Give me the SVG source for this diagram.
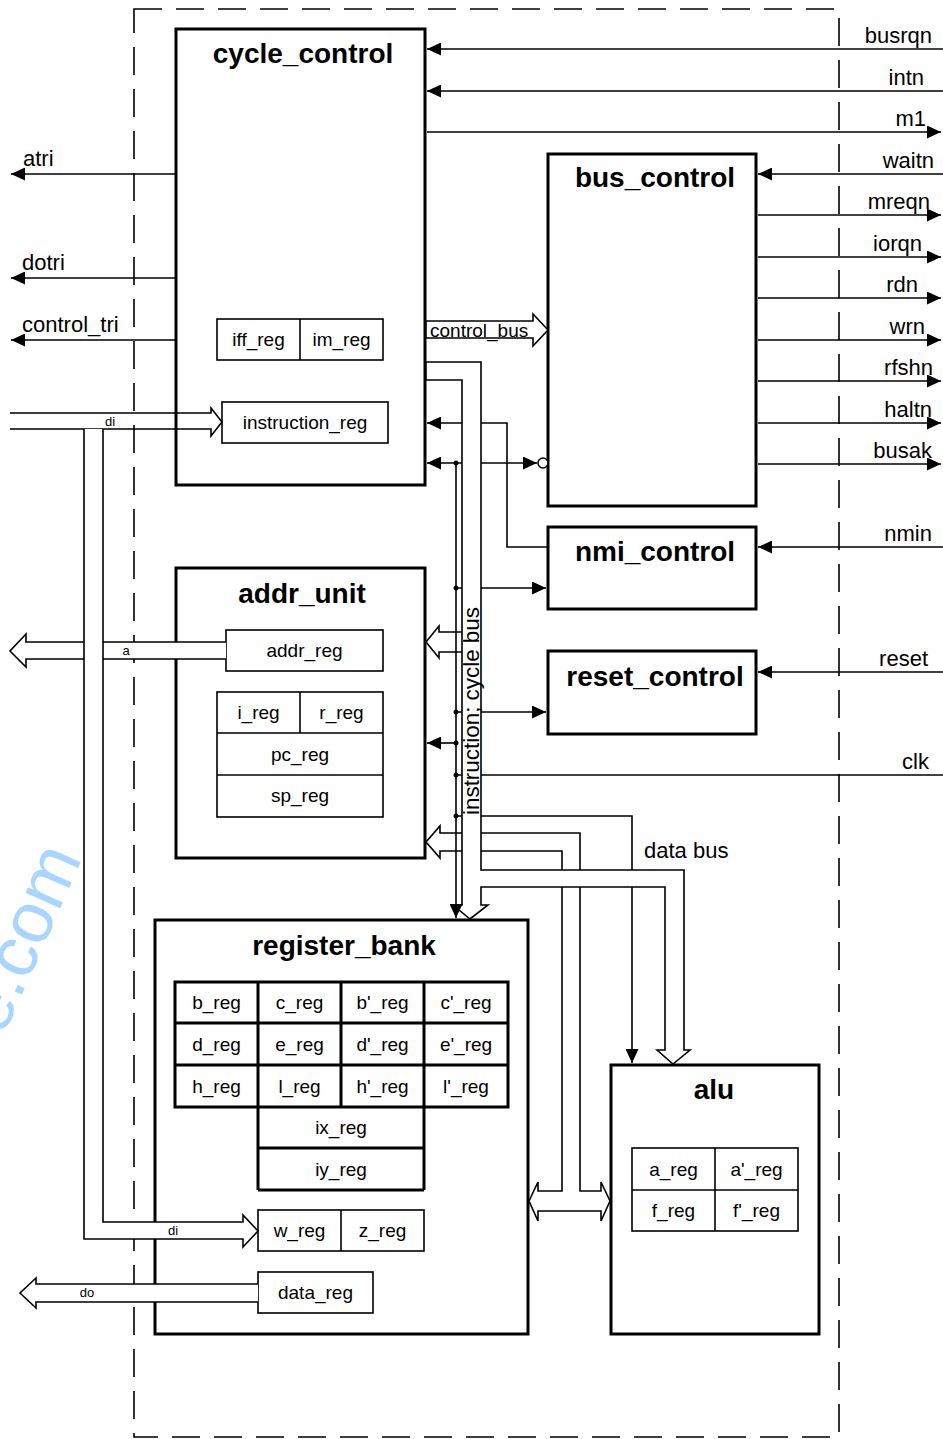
<svg xmlns="http://www.w3.org/2000/svg" width="943" height="1439" viewBox="0 0 943 1439">
<style>
text{font-family:"Liberation Sans",Arial,Helvetica,sans-serif;fill:#000}
.box{fill:#fff;stroke:#000;stroke-width:3}
.reg{fill:#fff;stroke:#000;stroke-width:1.6}
.grid{fill:none;stroke:#000;stroke-width:3}
.title{font-size:28px;font-weight:bold;text-anchor:middle}
.lbl{font-size:19px;text-anchor:middle}
.sig{font-size:22px}
.sigr{font-size:22px;text-anchor:end}
.small{font-size:13px;text-anchor:middle}
.wire{fill:none;stroke:#000;stroke-width:1.6}
.bus{fill:#fff;stroke:#000;stroke-width:1.6;stroke-linejoin:miter}
.hbus{fill:none;stroke:#000;stroke-width:1.6}
.dot{fill:#000}
</style>
<defs>
<marker id="arr" markerUnits="userSpaceOnUse" markerWidth="15" markerHeight="13" refX="14" refY="6.5" orient="auto-start-reverse">
<path d="M0,0 L14,6.5 L0,13 Z" fill="#000"/>
</marker>
</defs>
<rect width="943" height="1439" fill="#fff"/>
<text transform="translate(3,1037) rotate(-66)" font-size="72" style="fill:#a9d5ff">e.com</text>
<rect id="boundary" x="134" y="9" width="705" height="1428" fill="none" stroke="#000" stroke-width="1.6" stroke-dasharray="28 14"/>

<g id="cycle_control">
<rect class="box" x="176" y="29" width="249" height="456"/>
<text class="title" x="303" y="63">cycle_control</text>
<rect class="reg" x="217" y="319" width="166" height="41"/>
<line x1="300" y1="319" x2="300" y2="360" stroke="#000" stroke-width="1.6"/>
<text class="lbl" x="258.5" y="346">iff_reg</text>
<text class="lbl" x="341.5" y="346">im_reg</text>
<rect class="reg" x="222" y="402" width="166" height="41"/>
<text class="lbl" x="305" y="429">instruction_reg</text>
</g>

<g id="bus_control">
<rect class="box" x="548" y="154" width="208" height="352"/>
<text class="title" x="655" y="187">bus_control</text>
</g>

<g id="nmi_control">
<rect class="box" x="548" y="527" width="208" height="82"/>
<text class="title" x="655" y="561">nmi_control</text>
</g>

<g id="reset_control">
<rect class="box" x="548" y="651" width="208" height="83"/>
<text class="title" x="655" y="686">reset_control</text>
</g>

<g id="addr_unit">
<rect class="box" x="176" y="568" width="249" height="290"/>
<text class="title" x="302" y="603">addr_unit</text>
<rect class="reg" x="226" y="630" width="157" height="41"/>
<text class="lbl" x="304.5" y="657">addr_reg</text>
<rect class="reg" x="217" y="692" width="166" height="125"/>
<line x1="300" y1="692" x2="300" y2="733" stroke="#000" stroke-width="1.6"/>
<line x1="217" y1="733" x2="383" y2="733" stroke="#000" stroke-width="1.6"/>
<line x1="217" y1="775" x2="383" y2="775" stroke="#000" stroke-width="1.6"/>
<text class="lbl" x="258.5" y="719">i_reg</text>
<text class="lbl" x="341.5" y="719">r_reg</text>
<text class="lbl" x="300" y="761">pc_reg</text>
<text class="lbl" x="300" y="802">sp_reg</text>
</g>

<g id="register_bank">
<rect class="box" x="155" y="920" width="373" height="414"/>
<text class="title" x="344" y="955">register_bank</text>
<path class="grid" d="M175,982 H508 V1107 H175 Z M175,1023 H508 M175,1065 H508 M258,982 V1190 M341,982 V1107 M424,982 V1190 M258,1148 H424 M258,1190 H424"/>
<text class="lbl" x="216.5" y="1009">b_reg</text>
<text class="lbl" x="299.5" y="1009">c_reg</text>
<text class="lbl" x="382.5" y="1009">b'_reg</text>
<text class="lbl" x="466" y="1009">c'_reg</text>
<text class="lbl" x="216.5" y="1050.5">d_reg</text>
<text class="lbl" x="299.5" y="1050.5">e_reg</text>
<text class="lbl" x="382.5" y="1050.5">d'_reg</text>
<text class="lbl" x="466" y="1050.5">e'_reg</text>
<text class="lbl" x="216.5" y="1092.5">h_reg</text>
<text class="lbl" x="299.5" y="1092.5">l_reg</text>
<text class="lbl" x="382.5" y="1092.5">h'_reg</text>
<text class="lbl" x="466" y="1092.5">l'_reg</text>
<text class="lbl" x="341" y="1134">ix_reg</text>
<text class="lbl" x="341" y="1175.5">iy_reg</text>
<rect class="reg" x="258" y="1210" width="166" height="41"/>
<line x1="341" y1="1210" x2="341" y2="1251" stroke="#000" stroke-width="1.6"/>
<text class="lbl" x="299.5" y="1237">w_reg</text>
<text class="lbl" x="382.5" y="1237">z_reg</text>
<rect class="reg" x="258" y="1272" width="115" height="41"/>
<text class="lbl" x="315.5" y="1299">data_reg</text>
</g>

<g id="alu">
<rect class="box" x="611" y="1065" width="208" height="269"/>
<text class="title" x="714" y="1099">alu</text>
<rect class="reg" x="632" y="1148" width="166" height="83"/>
<line x1="715" y1="1148" x2="715" y2="1231" stroke="#000" stroke-width="1.6"/>
<line x1="632" y1="1190" x2="798" y2="1190" stroke="#000" stroke-width="1.6"/>
<text class="lbl" x="673.5" y="1175.5">a_reg</text>
<text class="lbl" x="756.5" y="1175.5">a'_reg</text>
<text class="lbl" x="673.5" y="1216.5">f_reg</text>
<text class="lbl" x="756.5" y="1216.5">f'_reg</text>
</g>

<g id="connectors">
<path class="wire" d="M943,49 H427" marker-end="url(#arr)"/>
<path class="wire" d="M943,91 H427" marker-end="url(#arr)"/>
<path class="wire" d="M427,132 H941" marker-end="url(#arr)"/>
<path class="wire" d="M943,174 H758" marker-end="url(#arr)"/>
<path class="wire" d="M758,215 H941" marker-end="url(#arr)"/>
<path class="wire" d="M758,257 H941" marker-end="url(#arr)"/>
<path class="wire" d="M758,298 H941" marker-end="url(#arr)"/>
<path class="wire" d="M758,340 H941" marker-end="url(#arr)"/>
<path class="wire" d="M758,381 H941" marker-end="url(#arr)"/>
<path class="wire" d="M758,423 H941" marker-end="url(#arr)"/>
<path class="wire" d="M758,464 H941" marker-end="url(#arr)"/>
<path class="wire" d="M943,547 H758" marker-end="url(#arr)"/>
<path class="wire" d="M943,672 H758" marker-end="url(#arr)"/>
<path class="wire" d="M176,174 H11" marker-end="url(#arr)"/>
<path class="wire" d="M176,278 H11" marker-end="url(#arr)"/>
<path class="wire" d="M176,340 H11" marker-end="url(#arr)"/>
<path class="wire" d="M548,547 H507 V423 H427" marker-end="url(#arr)"/>
<path class="wire" d="M427,463 H537" marker-start="url(#arr)" marker-end="url(#arr)"/>
<circle cx="543" cy="463" r="5" fill="#fff" stroke="#000" stroke-width="1.6"/>
<path class="wire" d="M456,588 H546" marker-end="url(#arr)"/>
<path class="wire" d="M456,712 H546" marker-end="url(#arr)"/>
<path class="wire" d="M456,743 H427" marker-end="url(#arr)"/>
<path class="wire" d="M456,775 H943"/>
<path class="wire" d="M456,816 H632 V1063" marker-end="url(#arr)"/>
<path class="bus" d="M426,321 H533 V314 L548,330 L533,346 V338 H426 Z"/>
<path class="bus" d="M462,632 H439 V626 L426,642 L439,658 V652 H462"/>
<path class="bus" d="M462,833 H440 V826 L426,842 L440,858 V851 H462"/>
<path class="bus" d="M481,833 H580 V1191 H601 V1182 L610,1201 L601,1221 V1211 H538 V1221 L529,1201 L538,1182 V1191 H562 V851 H481"/>
<path class="bus" d="M426,362 H481 V870 H684 V1050 H690 L673,1064 L657,1050 H665 V887 H481 V905 H488 L470,919 L453,905 H462 V380 H426 Z"/>
<path class="wire" d="M456,463 V918" marker-end="url(#arr)"/>
<circle class="dot" cx="456" cy="463" r="2.5"/>
<circle class="dot" cx="456" cy="588" r="2.5"/>
<circle class="dot" cx="456" cy="712" r="2.5"/>
<circle class="dot" cx="456" cy="743" r="2.5"/>
<circle class="dot" cx="456" cy="775" r="2.5"/>
<circle class="dot" cx="456" cy="816" r="2.5"/>
<path class="hbus" d="M10,413 H211 V408 L222,422 L211,436 V429 H10"/>
<path class="bus" d="M226,642 H26 V634 L10,651 L26,667 V659 H226"/>
<path class="bus" d="M103,429 V1222 H243 V1215 L258,1231 L243,1247 V1239 H84 V429"/>
<path class="bus" d="M258,1284 H36 V1278 L20,1293 L36,1308 V1302 H258"/>
</g>

<g id="labels">
<text class="sigr" x="932" y="43">busrqn</text>
<text class="sigr" x="924" y="85">intn</text>
<text class="sigr" x="926" y="126">m1</text>
<text class="sigr" x="934" y="168">waitn</text>
<text class="sigr" x="930" y="209">mreqn</text>
<text class="sigr" x="922" y="251">iorqn</text>
<text class="sigr" x="918" y="292">rdn</text>
<text class="sigr" x="925" y="334">wrn</text>
<text class="sigr" x="933" y="375">rfshn</text>
<text class="sigr" x="932" y="417">haltn</text>
<text class="sigr" x="932" y="458">busak</text>
<text class="sigr" x="932" y="541">nmin</text>
<text class="sigr" x="928" y="666">reset</text>
<text class="sigr" x="929" y="769">clk</text>
<text class="sig" x="23" y="166">atri</text>
<text class="sig" x="22" y="270">dotri</text>
<text class="sig" x="22" y="332">control_tri</text>
<text x="430" y="337" font-size="19">control_bus</text>
<text class="sig" x="644" y="858">data bus</text>
<text class="sig" transform="translate(479,815) rotate(-90)" textLength="208" lengthAdjust="spacingAndGlyphs">instruction; cycle bus</text>
<text class="small" x="110" y="426">di</text>
<text class="small" x="126" y="655">a</text>
<text class="small" x="173" y="1235">di</text>
<text class="small" x="87" y="1297">do</text>
</g>
</svg>
